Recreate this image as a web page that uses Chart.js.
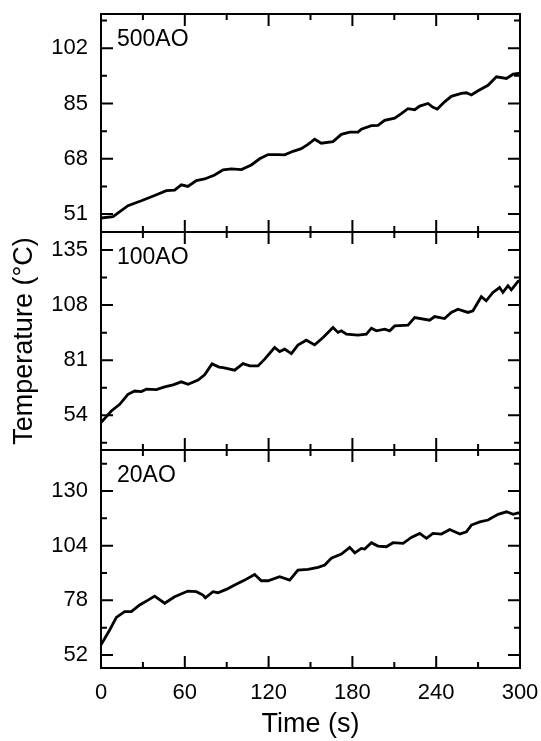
<!DOCTYPE html>
<html><head><meta charset="utf-8">
<script src="https://cdn.jsdelivr.net/npm/chart.js@4"></script>
<style>html,body{margin:0;padding:0;background:#fff;}</style>
</head><body>
<canvas id="c" width="541" height="741" style="display:block"></canvas>
<script>
// ---- data ----
const panelNames = ['500AO', '100AO', '20AO'];

const time500 = [0, 8.6, 19.3, 28.9, 38.4, 46.8, 52.7, 57.5, 62.2, 68.3, 74.2, 81.4, 87.4, 93.3, 100.5, 107.6, 113.6, 119.6, 126.7, 131.5, 137.5, 143.4, 148.2, 153, 157.7, 166.1, 172.1, 178.1, 184, 186.4, 193.6, 198.3, 203.1, 210.3, 215, 219.8, 224.6, 228.2, 234.1, 237.7, 240.8, 246, 250.8, 258, 261.6, 265.2, 270, 277.1, 283.1, 290.3, 295.1, 300];
const temp500 = [49.8, 50.2, 53.6, 55.1, 56.7, 58.2, 58.4, 60.0, 59.5, 61.3, 61.8, 63.0, 64.6, 64.9, 64.7, 66.1, 68.0, 69.3, 69.3, 69.2, 70.3, 71.1, 72.4, 74.0, 72.8, 73.3, 75.5, 76.2, 76.2, 77.1, 78.2, 78.3, 79.8, 80.5, 81.9, 83.4, 83.1, 84.2, 85.0, 83.8, 83.3, 85.5, 87.2, 88.1, 88.3, 87.6, 88.9, 90.6, 93.2, 92.7, 94.0, 94.3];

const time100 = [0, 7.4, 13.4, 19.3, 24.1, 28.9, 32.5, 39.6, 45.6, 51.6, 57.5, 62.3, 69.5, 74.2, 79.5, 84.5, 87.4, 95.7, 101.7, 106.5, 112.4, 117.2, 124.3, 127.9, 131.5, 136.3, 141, 147, 153, 159, 166.1, 169.7, 172.1, 175.7, 184, 190, 193.6, 197.2, 203.1, 206.7, 210.3, 219.8, 224.6, 235.3, 238.9, 246, 250.8, 255.6, 262.7, 266.3, 272.3, 275.8, 280.6, 285.4, 287.8, 291.4, 293.8, 298.6, 300];
const temp100 = [50.4, 56.1, 59.4, 64.3, 65.9, 65.6, 66.8, 66.6, 67.9, 68.9, 70.4, 69.2, 71.3, 73.8, 79.2, 77.6, 77.4, 76.1, 79.3, 78.2, 78.2, 81.5, 87.2, 85.2, 86.4, 84.2, 88.4, 90.8, 88.5, 92.1, 97.0, 94.6, 95.4, 93.8, 93.3, 93.8, 96.7, 95.4, 96.2, 95.4, 97.8, 98.2, 101.9, 100.6, 102.4, 101.4, 104.4, 106.0, 104.4, 105.2, 112.1, 110.1, 114.2, 116.6, 114.2, 117.5, 115.5, 119.6, 120.0];

const time20 = [0, 6.2, 11, 16.9, 21.7, 27.7, 33.7, 38.4, 45.6, 52.7, 62.2, 68.3, 73, 74.7, 80.2, 83.7, 89.7, 95.7, 102.9, 110, 114.8, 119.6, 127.9, 135.1, 141, 148.2, 155.4, 160.2, 164.9, 172.1, 178.1, 181.7, 186.4, 188.8, 193.6, 198.3, 204.3, 209.1, 216.3, 222.2, 228.2, 233, 237.7, 243.7, 249.7, 256.9, 261.6, 265.2, 271.2, 277.1, 284.3, 290.3, 295.1, 298.6, 300];
const temp20 = [56.8, 63.9, 69.9, 72.6, 72.6, 75.8, 78.1, 80.0, 76.6, 79.7, 82.4, 82.1, 80.5, 79.2, 82.1, 81.6, 83.2, 85.3, 87.6, 90.3, 87.3, 87.3, 89.2, 87.6, 92.4, 92.7, 93.7, 94.8, 98.0, 100.0, 103.2, 100.6, 102.7, 102.4, 105.4, 103.8, 103.5, 105.4, 105.1, 107.9, 109.8, 107.5, 109.8, 109.5, 111.7, 109.5, 110.6, 113.8, 115.3, 116.2, 118.9, 120.1, 118.9, 119.6, 119.4];

const xTicks = [0, 60, 120, 180, 240, 300];
const yTicks500 = [51, 68, 85, 102];
const yTicks100 = [54, 81, 108, 135];
const yTicks20 = [52, 78, 104, 130];
const yRange500 = [45.5, 112.5];
const yRange100 = [37, 143.8];
const yRange20 = [45.8, 149.5];

// ---- chart ----
const FONT = "'Liberation Sans', Arial, sans-serif";
const toXY = (ts, vs) => ts.map((t, i) => ({x: t, y: vs[i]}));
const zeroPad = s => { s.paddingTop = 0; s.paddingBottom = 0; s.paddingLeft = 0; s.paddingRight = 0; };

function yScale(range, ticks, weight, title) {
  return {
    type: 'linear', position: 'left', stack: 'panels', stackWeight: 1, weight: weight,
    min: range[0], max: range[1],
    afterBuildTicks: s => { s.ticks = ticks.map(v => ({value: v})); },
    afterFit: s => { s.width = 101; zeroPad(s); },
    grid: {display: false, drawTicks: false},
    border: {display: false},
    ticks: {color: '#000', padding: 13, font: {family: FONT, size: 22}},
    title: title ? {display: true, text: title, color: '#000', font: {family: FONT, size: 27}, padding: {top: 8, bottom: 0}} : {display: false}
  };
}

const framePlugin = {
  id: 'frames',
  afterDraw(chart) {
    const ctx = chart.ctx;
    const {left, right} = chart.chartArea;
    const xs = chart.scales.x;
    const MAJ = 12, MIN = 6;
    ctx.save();
    ctx.strokeStyle = '#000';
    ctx.lineWidth = 2;
    ['y500', 'y100', 'y20'].forEach((id, i) => {
      const s = chart.scales[id];
      const top = s.top, bottom = s.bottom;
      ctx.strokeRect(left, top, right - left, bottom - top);
      const vals = s.ticks.map(t => t.value);
      const step = vals[1] - vals[0];
      ctx.beginPath();
      vals.forEach(v => {
        const y = s.getPixelForValue(v);
        ctx.moveTo(left, y); ctx.lineTo(left + MAJ, y);
        ctx.moveTo(right, y); ctx.lineTo(right - MAJ, y);
      });
      const minors = [vals[0] - step / 2].concat(vals.map(v => v + step / 2));
      minors.filter(v => v > s.min && v < s.max).forEach(v => {
        const y = s.getPixelForValue(v);
        ctx.moveTo(left, y); ctx.lineTo(left + MIN, y);
        ctx.moveTo(right, y); ctx.lineTo(right - MIN, y);
      });
      const xv = xs.ticks.map(t => t.value);
      const xstep = xv[1] - xv[0];
      xv.forEach(v => {
        const x = xs.getPixelForValue(v);
        ctx.moveTo(x, top); ctx.lineTo(x, top + MAJ);
        ctx.moveTo(x, bottom); ctx.lineTo(x, bottom - MAJ);
      });
      xv.slice(0, -1).map(v => v + xstep / 2).forEach(v => {
        const x = xs.getPixelForValue(v);
        ctx.moveTo(x, top); ctx.lineTo(x, top + MIN);
        ctx.moveTo(x, bottom); ctx.lineTo(x, bottom - MIN);
      });
      ctx.stroke();
      ctx.fillStyle = '#000';
      ctx.font = '23px ' + FONT;
      ctx.textBaseline = 'middle';
      ctx.textAlign = 'left';
      ctx.fillText(panelNames[i], left + 16, top + 26);
    });
    ctx.restore();
  }
};

const lineStyle = {borderColor: '#000', borderWidth: 2.8, pointRadius: 0, fill: false, tension: 0};

new Chart(document.getElementById('c'), {
  type: 'line',
  data: {
    datasets: [
      Object.assign({label: panelNames[0], data: toXY(time500, temp500), yAxisID: 'y500'}, lineStyle),
      Object.assign({label: panelNames[1], data: toXY(time100, temp100), yAxisID: 'y100'}, lineStyle),
      Object.assign({label: panelNames[2], data: toXY(time20, temp20), yAxisID: 'y20'}, lineStyle)
    ]
  },
  options: {
    responsive: false,
    animation: false,
    layout: {padding: {top: 14, right: 21, left: 0, bottom: 0}},
    plugins: {legend: {display: false}, tooltip: {enabled: false}},
    scales: {
      x: {
        type: 'linear', position: 'bottom', min: 0, max: 300,
        afterBuildTicks: s => { s.ticks = xTicks.map(v => ({value: v})); },
        afterFit: s => { s.height = 73; zeroPad(s); },
        grid: {display: false, drawTicks: false},
        border: {display: false},
        ticks: {color: '#000', padding: 12, maxRotation: 0, font: {family: FONT, size: 22}},
        title: {display: true, text: 'Time (s)', color: '#000', font: {family: FONT, size: 27}, padding: {top: 0, bottom: 0}}
      },
      y500: yScale(yRange500, yTicks500, 3, null),
      y100: yScale(yRange100, yTicks100, 2, 'Temperature (°C)'),
      y20: yScale(yRange20, yTicks20, 1, null)
    }
  },
  plugins: [framePlugin]
});
</script>
</body></html>
